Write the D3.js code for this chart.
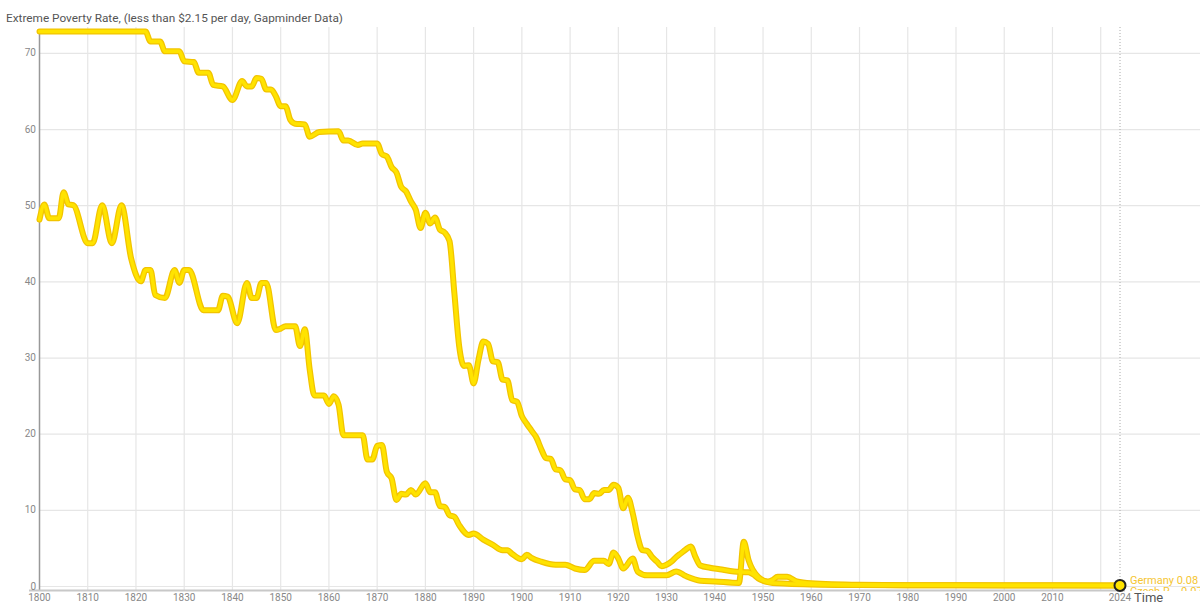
<!DOCTYPE html>
<html>
<head>
<meta charset="utf-8">
<script src="https://cdn.jsdelivr.net/npm/d3@7"></script>
<style>
	body { margin: 0; background: #fff; }
	svg { display: block; font-family: "Roboto", "Noto Sans", sans-serif; }
</style>
</head>
<body>
<div id="chart"></div>
<script>
////////////////////////////////////////
// extreme poverty rate, two countries, 1800 - 2024
////////////////////////////////////////

var title = "Extreme Poverty Rate, (less than $2.15 per day, Gapminder Data)";

// upper line
var czechYears  = [1800, 1822, 1823, 1825, 1826, 1829, 1830, 1832, 1833, 1835, 1836, 1838, 1840, 1842, 1843, 1844,
	1845, 1846, 1847, 1848, 1849, 1850, 1851, 1852, 1853, 1855, 1856, 1858, 1862, 1863, 1864, 1866, 1867, 1870,
	1871, 1872, 1873, 1874, 1875, 1876, 1877, 1878, 1879, 1880, 1881, 1882, 1883, 1884, 1885, 1886, 1887, 1888,
	1889, 1890, 1891, 1892, 1893, 1894, 1895, 1896, 1897, 1898, 1899, 1900, 1901, 1902, 1903, 1904, 1905, 1906,
	1907, 1908, 1909, 1910, 1911, 1912, 1913, 1914, 1915, 1916, 1917, 1918, 1919, 1920, 1921, 1922, 1923, 1924,
	1925, 1926, 1927, 1928, 1929, 1930, 1931, 1932, 1933, 1934, 1935, 1936, 1937, 1939, 1941, 1944, 1947, 1948,
	1949, 1950, 1951, 1952, 1955, 1960, 1970, 1980, 2000, 2024];
var czechValues = [72.8, 72.8, 71.5, 71.5, 70.2, 70.2, 68.9, 68.8, 67.4, 67.4, 65.8, 65.6, 63.8, 66.3, 65.6, 65.6,
	66.7, 66.6, 65.2, 65.2, 64.3, 63.0, 63.0, 61.2, 60.7, 60.6, 59.0, 59.6, 59.7, 58.5, 58.5, 57.9, 58.1, 58.1,
	56.7, 56.4, 55.0, 54.3, 52.4, 51.8, 50.5, 49.4, 47.0, 49.0, 47.6, 48.4, 46.8, 46.4, 45.3, 38.5, 31.5, 28.9,
	29.0, 26.6, 29.7, 32.1, 31.8, 29.5, 29.4, 27.1, 27.0, 24.4, 24.2, 22.3, 21.3, 20.4, 19.5, 18.0, 16.8, 16.7,
	15.3, 15.2, 14.0, 13.9, 12.7, 12.6, 11.4, 11.4, 12.2, 12.1, 12.6, 12.6, 13.3, 12.9, 10.2, 11.6, 9.5, 6.5,
	4.7, 4.6, 3.8, 3.2, 2.6, 2.8, 3.2, 3.8, 4.3, 4.8, 5.2, 3.8, 2.7, 2.4, 2.2, 1.9, 1.8, 1.5,
	1.0, 0.7, 0.5, 0.4, 0.3, 0.2, 0.12, 0.1, 0.08, 0.07];

// lower line
var germanyYears  = [1800, 1801, 1802, 1804, 1805, 1806, 1807, 1810, 1811, 1813, 1815, 1817, 1819, 1821, 1822, 1823,
	1824, 1826, 1828, 1829, 1830, 1831, 1834, 1837, 1838, 1839, 1841, 1843, 1844, 1845, 1846, 1847, 1849, 1850,
	1851, 1853, 1854, 1855, 1856, 1857, 1859, 1860, 1861, 1862, 1863, 1867, 1868, 1869, 1870, 1871, 1872, 1873,
	1874, 1875, 1876, 1877, 1878, 1880, 1881, 1882, 1883, 1884, 1885, 1886, 1887, 1889, 1890, 1892, 1894, 1896,
	1897, 1898, 1900, 1901, 1902, 1904, 1907, 1909, 1911, 1913, 1915, 1917, 1918, 1919, 1920, 1921, 1923, 1924,
	1926, 1930, 1932, 1934, 1937, 1940, 1945, 1946, 1947, 1949, 1951, 1952, 1953, 1955, 1957, 1960, 1970, 1980,
	2000, 2024];
var germanyValues = [48.1, 50.1, 48.3, 48.3, 51.7, 50.1, 50.0, 45.0, 45.0, 50.0, 45.0, 50.0, 43.0, 40.0, 41.5, 41.5,
	38.2, 37.8, 41.5, 39.8, 41.5, 41.5, 36.2, 36.2, 38.1, 38.0, 34.5, 39.8, 37.8, 37.8, 39.8, 39.8, 33.6, 33.8,
	34.1, 34.1, 31.5, 33.7, 28.5, 25.0, 25.0, 23.9, 24.9, 23.8, 19.8, 19.8, 16.6, 16.6, 18.4, 18.5, 15.0, 14.1,
	11.3, 12.1, 12.0, 12.6, 12.0, 13.5, 12.3, 12.3, 10.5, 10.4, 9.3, 9.1, 8.0, 6.7, 6.9, 6.1, 5.4, 4.7,
	4.7, 4.2, 3.5, 4.1, 3.7, 3.2, 2.8, 2.8, 2.3, 2.1, 3.3, 3.3, 2.9, 4.4, 3.6, 2.3, 3.6, 1.9,
	1.4, 1.4, 1.9, 1.3, 0.7, 0.6, 0.4, 5.8, 3.4, 1.2, 0.6, 0.8, 1.2, 1.2, 0.6, 0.35, 0.15, 0.1,
	0.09, 0.08];

var yTicks = [0, 10, 20, 30, 40, 50, 60, 70];
var xTicks = [1800, 1810, 1820, 1830, 1840, 1850, 1860, 1870, 1880, 1890, 1900, 1910, 1920, 1930, 1940,
	1950, 1960, 1970, 1980, 1990, 2000, 2010, 2020];
var xLabels = [1800, 1810, 1820, 1830, 1840, 1850, 1860, 1870, 1880, 1890, 1900, 1910, 1920, 1930, 1940,
	1950, 1960, 1970, 1980, 1990, 2000, 2010, 2024];
var endLabels = ["Germany 0.08", "Czech R... 0.07"];

var width  = 1200;
var height = 607;

var lineOuter = "#f2c400";
var lineInner = "#ffe300";

var svg = d3.select("#chart").append("svg")
	.attr("width", width)
	.attr("height", height);

var x = d3.scaleLinear().domain([1800, 2024]).range([39.5, 1120]);
var y = d3.scaleLinear().domain([0, 73.4]).range([586, 27]);

// title
svg.append("text")
	.attr("x", 6)
	.attr("y", 22)
	.attr("font-size", "11.8px")
	.attr("fill", "#555")
	.text(title);

// grid
var grid = svg.append("g");
grid.selectAll(".hgrid").data(yTicks).enter().append("line")
	.attr("x1", 40).attr("x2", width)
	.attr("y1", function(d) { return y(d) + 0.5; })
	.attr("y2", function(d) { return y(d) + 0.5; })
	.attr("stroke", "#e6e6e6")
	.attr("stroke-width", 1.2);
grid.selectAll(".vgrid").data(xTicks.slice(1)).enter().append("line")
	.attr("x1", function(d) { return x(d); })
	.attr("x2", function(d) { return x(d); })
	.attr("y1", 27).attr("y2", 590)
	.attr("stroke", "#e6e6e6")
	.attr("stroke-width", 1.2);

// dotted "now" line
svg.append("line")
	.attr("x1", x(2024)).attr("x2", x(2024))
	.attr("y1", 27).attr("y2", 588)
	.attr("stroke", "#aaa")
	.attr("stroke-width", 1)
	.attr("stroke-dasharray", "1,2");

// axes lines
svg.append("line")
	.attr("x1", 39.5).attr("x2", 39.5)
	.attr("y1", 30).attr("y2", 591)
	.attr("stroke", "#999")
	.attr("stroke-width", 1.5);
svg.append("line")
	.attr("x1", 29).attr("x2", 1125)
	.attr("y1", 590.5).attr("y2", 590.5)
	.attr("stroke", "#c8c8c8")
	.attr("stroke-width", 2);

// tick labels
svg.append("g").selectAll("text").data(yTicks).enter().append("text")
	.attr("x", 36)
	.attr("y", function(d) { return y(d) + 3.5; })
	.attr("text-anchor", "end")
	.attr("font-size", "10px")
	.attr("fill", "#888")
	.text(function(d) { return d; });

svg.append("g").selectAll("text").data(xLabels).enter().append("text")
	.attr("x", function(d) { return x(d); })
	.attr("y", 601)
	.attr("text-anchor", "middle")
	.attr("font-size", "10px")
	.attr("fill", "#888")
	.text(function(d) { return d; });

// lines
var line = d3.line()
	.curve(d3.curveMonotoneX)
	.x(function(d) { return x(d[0]); })
	.y(function(d) { return y(d[1]); });

var series = [d3.zip(czechYears, czechValues), d3.zip(germanyYears, germanyValues)];

var lines = svg.append("g")
	.attr("fill", "none")
	.attr("stroke-linejoin", "round")
	.attr("stroke-linecap", "round");
series.forEach(function(s) {
	lines.append("path").attr("d", line(s)).attr("stroke", lineOuter).attr("stroke-width", 6);
});
series.forEach(function(s) {
	lines.append("path").attr("d", line(s)).attr("stroke", lineInner).attr("stroke-width", 3.5);
});

// end marker
svg.append("circle")
	.attr("cx", x(2024))
	.attr("cy", y(0.08))
	.attr("r", 5.5)
	.attr("fill", lineInner)
	.attr("stroke", "#222")
	.attr("stroke-width", 2);

// end labels, the second one is cut by the axis title
svg.append("clipPath").attr("id", "labclip")
	.append("rect").attr("x", 1125).attr("y", 560).attr("width", 80).attr("height", 31);

svg.append("g").attr("clip-path", "url(#labclip)")
	.selectAll("text").data(endLabels).enter().append("text")
	.attr("x", 1130)
	.attr("y", function(d, i) { return 584 + i * 11; })
	.attr("font-size", "11px")
	.attr("fill", "#f5c531")
	.text(function(d) { return d; });

svg.append("text")
	.attr("x", 1134)
	.attr("y", 602)
	.attr("font-size", "13px")
	.attr("fill", "#555")
	.text("Time");
</script>
</body>
</html>
